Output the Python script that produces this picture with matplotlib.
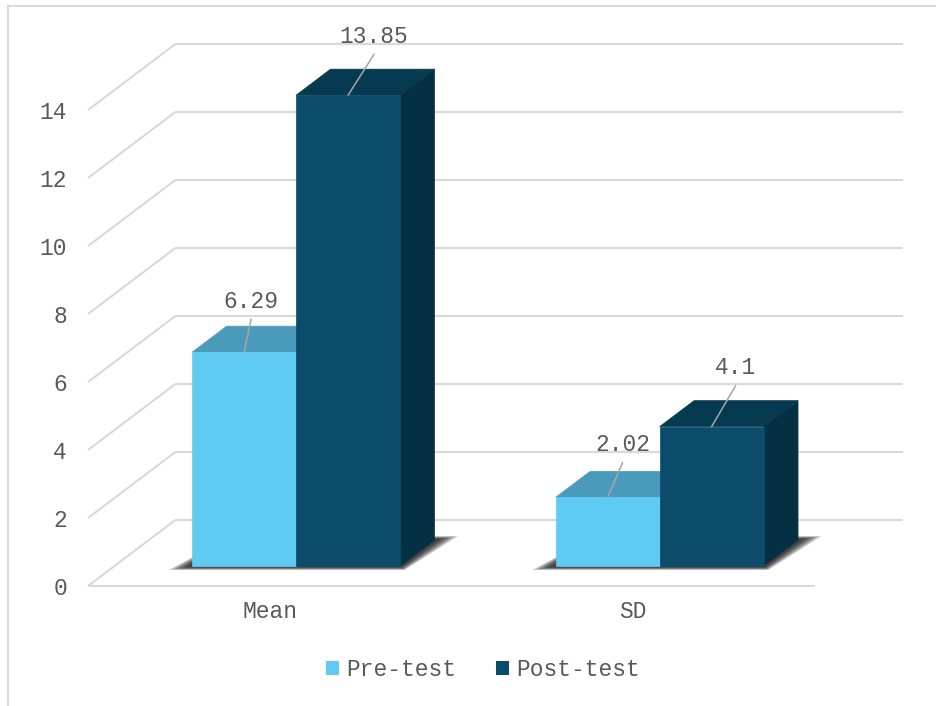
import matplotlib
matplotlib.use("Agg")
import matplotlib.pyplot as plt
from matplotlib.patches import Polygon, Patch
from matplotlib.lines import Line2D

# ---- data ----
categories = ["Mean", "SD"]
series_names = ["Pre-test", "Post-test"]
pre_test = [6.29, 2.02]
post_test = [13.85, 4.1]
y_ticks = [0, 2, 4, 6, 8, 10, 12, 14]

# ---- style ----
FONT = "Liberation Mono"
TEXT_COLOR = "#595959"
GRID_COLOR = "#D9D9D9"
FACE_COLORS = {
    "Pre-test": ("#5FCBF3", "#4A9BBB", "#3F88A6"),   # front, top, side
    "Post-test": ("#0A4C69", "#063A50", "#052F42"),
}
FS = 16.5

W, H, DPI = 937, 706, 100
fig = plt.figure(figsize=(W / DPI, H / DPI), dpi=DPI)
fig.patch.set_facecolor("white")

# plot area of the front plane (figure pixels)
left_px, right_px = 88, 815
base_px, top_px = 586, 110
ax = fig.add_axes([left_px / W, (H - base_px) / H,
                   (right_px - left_px) / W, (base_px - top_px) / H])
ax.set_xlim(0, len(categories))
ax.set_ylim(0, 14)
ax.set_facecolor("none")

x_unit_px = (right_px - left_px) / len(categories)
y_unit_px = (base_px - top_px) / 14.0

# depth projection: full depth shifts right/up by these amounts (data units)
DX = 88 / x_unit_px
DY = 66.5 / y_unit_px

def proj(x, v, d):
    return (x + d * DX, v + d * DY)

# ---- walls: gridlines on the back wall plus the receding left edges ----
for v in y_ticks:
    ax.plot([0, DX], [v, v + DY], color=GRID_COLOR, lw=1.5,
            clip_on=False, zorder=1, solid_capstyle="butt")
    ax.plot([DX, len(categories) + DX], [v + DY, v + DY], color=GRID_COLOR,
            lw=1.5, clip_on=False, zorder=1, solid_capstyle="butt")
ax.plot([0, len(categories)], [0, 0], color=GRID_COLOR, lw=1.5,
        clip_on=False, zorder=1, solid_capstyle="butt")

# ---- bars ----
bar_w = 0.286
d0, d1 = 0.30, 0.691
series = [("Pre-test", pre_test), ("Post-test", post_test)]

label_offsets = {  # (dx, dy) in pixels, screen-down positive
    ("Mean", "Pre-test"): (7, -51),
    ("Mean", "Post-test"): (26, -59),
    ("SD", "Pre-test"): (15, -53),
    ("SD", "Post-test"): (24, -59),
}

for i, cat in enumerate(categories):
    center = i + 0.5
    x_left = center - bar_w
    x_right = center + bar_w

    # soft floor shadow under the bar pair
    for k in range(10):
        ex = (24 - 2 * k) / x_unit_px
        ey = (4 - 0.3 * k) / y_unit_px
        pts = [proj(x_left - ex, -ey, d0), proj(x_right + ex * 0.2, -ey, d0),
               proj(x_right + ex, ey, d1), proj(x_left + ex * 0.2, ey, d1)]
        ax.add_patch(Polygon(pts, closed=True, facecolor="black",
                             edgecolor="none", alpha=0.12, zorder=2,
                             clip_on=False))

    for j, (name, vals) in enumerate(series):
        v = vals[i]
        front, top, side = FACE_COLORS[name]
        x0 = x_left + j * bar_w
        x1 = x0 + bar_w
        z = 3 + j
        # right side
        ax.add_patch(Polygon([proj(x1, 0, d0), proj(x1, 0, d1),
                              proj(x1, v, d1), proj(x1, v, d0)],
                             closed=True, facecolor=side, edgecolor=side,
                             lw=0.5, zorder=z, clip_on=False))
        # top
        ax.add_patch(Polygon([proj(x0, v, d0), proj(x1, v, d0),
                              proj(x1, v, d1), proj(x0, v, d1)],
                             closed=True, facecolor=top, edgecolor=top,
                             lw=0.5, zorder=z, clip_on=False))
        # front
        ax.add_patch(Polygon([proj(x0, 0, d0), proj(x1, 0, d0),
                              proj(x1, v, d0), proj(x0, v, d0)],
                             closed=True, facecolor=front, edgecolor=front,
                             lw=0.5, zorder=z, clip_on=False))

        # value label with leader line
        anchor = proj((x0 + x1) / 2, v, d0)
        odx, ody = label_offsets[(cat, name)]
        ax.annotate("", xy=anchor, xytext=(odx, -(ody + 18)),
                    textcoords="offset pixels",
                    arrowprops=dict(arrowstyle="-", color="#A6A6A6", lw=1.1,
                                    shrinkA=0, shrinkB=0),
                    zorder=10, annotation_clip=False)
        ax.annotate(f"{v:g}", xy=anchor, xytext=(odx, -ody),
                    textcoords="offset pixels", ha="center", va="center",
                    fontsize=FS, family=FONT, color=TEXT_COLOR, zorder=10,
                    annotation_clip=False)

# ---- axes / ticks ----
for s in ax.spines.values():
    s.set_visible(False)
ax.set_yticks(y_ticks)
ax.set_yticklabels([str(t) for t in y_ticks])
ax.set_xticks([i + 0.5 for i in range(len(categories))])
ax.set_xticklabels(categories)
ax.tick_params(axis="y", length=0, pad=21 * 0.72, labelsize=FS,
               labelcolor=TEXT_COLOR)
ax.tick_params(axis="x", length=0, pad=14 * 0.72, labelsize=FS,
               labelcolor=TEXT_COLOR)
for lab in ax.get_xticklabels() + ax.get_yticklabels():
    lab.set_family(FONT)

# ---- legend ----
handles = [Patch(facecolor=FACE_COLORS[n][0], edgecolor="none")
           for n in series_names]
leg = fig.legend(handles, series_names, loc="center",
                 bbox_to_anchor=(483 / W, (H - 670) / H), ncol=2,
                 frameon=False, prop={"family": FONT, "size": FS},
                 handlelength=0.57, handleheight=0.57, handletextpad=0.3,
                 columnspacing=1.75)
for t in leg.get_texts():
    t.set_color(TEXT_COLOR)

# ---- chart border ----
bx, by = 8 / W, 1 - 6 / H
fig.add_artist(Line2D([bx, bx], [0, by], transform=fig.transFigure,
                      color=GRID_COLOR, lw=1.5))
fig.add_artist(Line2D([bx, 1], [by, by], transform=fig.transFigure,
                      color=GRID_COLOR, lw=1.5))

fig.savefig("out.png", dpi=DPI, facecolor="white")
